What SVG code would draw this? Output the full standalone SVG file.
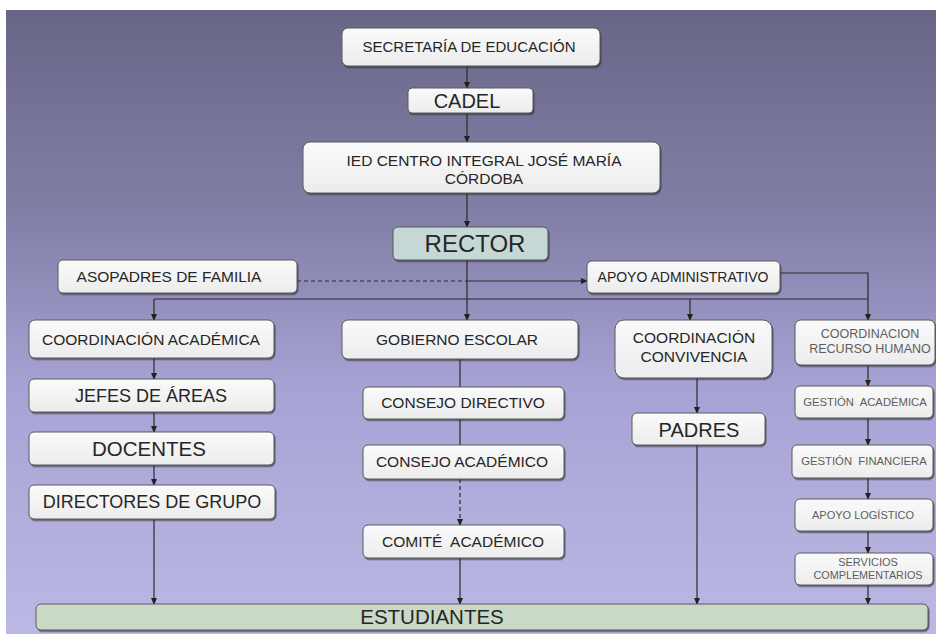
<svg xmlns="http://www.w3.org/2000/svg" width="936" height="634" viewBox="0 0 936 634">
  <defs>
    <linearGradient id="bg" x1="0" y1="0" x2="0" y2="1">
      <stop offset="0" stop-color="#686686"/>
      <stop offset="0.35" stop-color="#8481aa"/>
      <stop offset="0.6" stop-color="#a6a2d4"/>
      <stop offset="1" stop-color="#bcb8e4"/>
    </linearGradient>
    <linearGradient id="boxfill" x1="0" y1="0" x2="0" y2="1">
      <stop offset="0" stop-color="#fafafa"/>
      <stop offset="1" stop-color="#ececec"/>
    </linearGradient>
    <marker id="arr" viewBox="0 0 8 8" refX="7" refY="4" markerWidth="7" markerHeight="7" markerUnits="userSpaceOnUse" orient="auto">
      <path d="M0,0.5 L8,4 L0,7.5 Z" fill="#222"/>
    </marker>
    <filter id="sh" x="-5%" y="-10%" width="110%" height="130%">
      <feDropShadow dx="1" dy="1.5" stdDeviation="0.6" flood-color="#222" flood-opacity="0.6"/>
    </filter>
  </defs>
  <style>
    .box { fill: url(#boxfill); stroke: #5a5a5a; stroke-width: 1; filter: url(#sh); }
    .rector { fill: #c6d8d6; stroke: #5a5a5a; stroke-width: 1; filter: url(#sh); }
    .est { fill: #c9d9c6; stroke: #5a5a5a; stroke-width: 1; filter: url(#sh); }
    text { font-family: "Liberation Sans", Arial, sans-serif; fill: #262626; text-anchor: middle; }
    .lt { fill: #5e5e5e; }
    .ln { fill: none; stroke: #2a2a2a; stroke-width: 1.2; }
    .dash { stroke-dasharray: 4 3; }
  </style>

  <rect x="0" y="0" width="936" height="634" fill="#ffffff"/>
  <rect x="6" y="10" width="930" height="624" fill="url(#bg)"/>

  <g id="connectors">
    <line class="ln" x1="467" y1="66" x2="467" y2="88" marker-end="url(#arr)"/>
    <line class="ln" x1="467" y1="113" x2="467" y2="142" marker-end="url(#arr)"/>
    <line class="ln" x1="467" y1="193" x2="467" y2="227" marker-end="url(#arr)"/>
    <line class="ln" x1="467" y1="260" x2="467" y2="320" marker-end="url(#arr)"/>
    <line class="ln dash" x1="297" y1="281" x2="467" y2="281"/>
    <line class="ln" x1="467" y1="281" x2="587" y2="281" marker-end="url(#arr)"/>
    <line class="ln" x1="154" y1="299" x2="868" y2="299"/>
    <line class="ln" x1="154" y1="299" x2="154" y2="320" marker-end="url(#arr)"/>
    <line class="ln" x1="690" y1="299" x2="690" y2="320" marker-end="url(#arr)"/>
    <polyline class="ln" points="780,273 868,273 868,320" marker-end="url(#arr)"/>
    <line class="ln" x1="154" y1="358" x2="154" y2="379" marker-end="url(#arr)"/>
    <line class="ln" x1="154" y1="412" x2="154" y2="432" marker-end="url(#arr)"/>
    <line class="ln" x1="154" y1="465" x2="154" y2="485" marker-end="url(#arr)"/>
    <line class="ln" x1="154" y1="519" x2="154" y2="604" marker-end="url(#arr)"/>
    <line class="ln" x1="460" y1="359" x2="460" y2="387"/>
    <line class="ln" x1="460" y1="419" x2="460" y2="445"/>
    <line class="ln dash" x1="460" y1="479" x2="460" y2="525" marker-end="url(#arr)"/>
    <line class="ln" x1="460" y1="558" x2="460" y2="604" marker-end="url(#arr)"/>
    <line class="ln" x1="697" y1="378" x2="697" y2="413" marker-end="url(#arr)"/>
    <line class="ln" x1="697" y1="445" x2="697" y2="604" marker-end="url(#arr)"/>
    <line class="ln" x1="868" y1="365" x2="868" y2="386" marker-end="url(#arr)"/>
    <line class="ln" x1="868" y1="418" x2="868" y2="445" marker-end="url(#arr)"/>
    <line class="ln" x1="868" y1="478" x2="868" y2="499" marker-end="url(#arr)"/>
    <line class="ln" x1="868" y1="531" x2="868" y2="553" marker-end="url(#arr)"/>
    <line class="ln" x1="868" y1="585" x2="868" y2="604" marker-end="url(#arr)"/>
  </g>

  <g id="secretaria">
    <rect class="box" x="342" y="28" width="258" height="38" rx="6"/>
    <text x="469" y="52" font-size="15">SECRETARÍA DE EDUCACIÓN</text>
  </g>
  <g id="cadel">
    <rect class="box" x="408" y="88" width="125" height="25" rx="4"/>
    <text x="467" y="108" font-size="20">CADEL</text>
  </g>
  <g id="ied">
    <rect class="box" x="303" y="142" width="357" height="51" rx="7"/>
    <text x="484" y="166" font-size="15.5">IED CENTRO INTEGRAL JOSÉ MARÍA</text>
    <text x="484" y="184" font-size="15.5">CÓRDOBA</text>
  </g>
  <g id="rector">
    <rect class="rector" x="393" y="227" width="155" height="33" rx="5"/>
    <text x="475" y="252" font-size="24">RECTOR</text>
  </g>
  <g id="asopadres">
    <rect class="box" x="58" y="260" width="239" height="33" rx="5"/>
    <text x="169" y="282" font-size="15.5">ASOPADRES DE FAMILIA</text>
  </g>
  <g id="apoyo-admin">
    <rect class="box" x="587" y="261" width="193" height="32" rx="5"/>
    <text x="683" y="282" font-size="14">APOYO ADMINISTRATIVO</text>
  </g>
  <g id="coord-academica">
    <rect class="box" x="29" y="320" width="245" height="38" rx="6"/>
    <text x="151" y="345" font-size="15.5">COORDINACIÓN ACADÉMICA</text>
  </g>
  <g id="jefes">
    <rect class="box" x="29" y="379" width="245" height="33" rx="5"/>
    <text x="151" y="402" font-size="18">JEFES DE ÁREAS</text>
  </g>
  <g id="docentes">
    <rect class="box" x="29" y="432" width="245" height="33" rx="5"/>
    <text x="149" y="456" font-size="20.5">DOCENTES</text>
  </g>
  <g id="directores">
    <rect class="box" x="29" y="485" width="246" height="34" rx="5"/>
    <text x="152" y="508" font-size="18">DIRECTORES DE GRUPO</text>
  </g>
  <g id="gobierno">
    <rect class="box" x="342" y="320" width="236" height="39" rx="6"/>
    <text x="457" y="345" font-size="15.5">GOBIERNO ESCOLAR</text>
  </g>
  <g id="consejo-directivo">
    <rect class="box" x="363" y="387" width="201" height="32" rx="5"/>
    <text x="463" y="408" font-size="15.5">CONSEJO DIRECTIVO</text>
  </g>
  <g id="consejo-academico">
    <rect class="box" x="363" y="445" width="201" height="34" rx="5"/>
    <text x="462" y="467" font-size="15.5">CONSEJO ACADÉMICO</text>
  </g>
  <g id="comite">
    <rect class="box" x="363" y="525" width="201" height="33" rx="5"/>
    <text x="463" y="547" font-size="15.5" xml:space="preserve">COMITÉ  ACADÉMICO</text>
  </g>
  <g id="coord-convivencia">
    <rect class="box" x="615" y="320" width="157" height="58" rx="9"/>
    <text x="694" y="343" font-size="15.5">COORDINACIÓN</text>
    <text x="694" y="362" font-size="15.5">CONVIVENCIA</text>
  </g>
  <g id="padres">
    <rect class="box" x="632" y="413" width="133" height="32" rx="5"/>
    <text x="699" y="437" font-size="20">PADRES</text>
  </g>
  <g id="coord-rrhh">
    <rect class="box" x="795" y="320" width="140" height="45" rx="6"/>
    <text class="lt" x="870" y="338" font-size="12.5">COORDINACION</text>
    <text class="lt" x="870" y="353" font-size="12.5">RECURSO HUMANO</text>
  </g>
  <g id="gestion-academica">
    <rect class="box" x="795" y="386" width="138" height="32" rx="5"/>
    <text class="lt" x="865" y="406" font-size="11.3" xml:space="preserve">GESTIÓN  ACADÉMICA</text>
  </g>
  <g id="gestion-financiera">
    <rect class="box" x="792" y="445" width="141" height="33" rx="5"/>
    <text class="lt" x="864" y="465" font-size="11.3" xml:space="preserve">GESTIÓN  FINANCIERA</text>
  </g>
  <g id="apoyo-logistico">
    <rect class="box" x="795" y="499" width="138" height="32" rx="5"/>
    <text class="lt" x="863" y="519" font-size="11">APOYO LOGÍSTICO</text>
  </g>
  <g id="servicios">
    <rect class="box" x="795" y="553" width="138" height="32" rx="5"/>
    <text class="lt" x="868" y="566" font-size="11">SERVICIOS</text>
    <text class="lt" x="868" y="579" font-size="10.8">COMPLEMENTARIOS</text>
  </g>
  <g id="estudiantes">
    <rect class="est" x="36" y="604" width="892" height="26" rx="5"/>
    <text x="432" y="624" font-size="20.5">ESTUDIANTES</text>
  </g>
</svg>
